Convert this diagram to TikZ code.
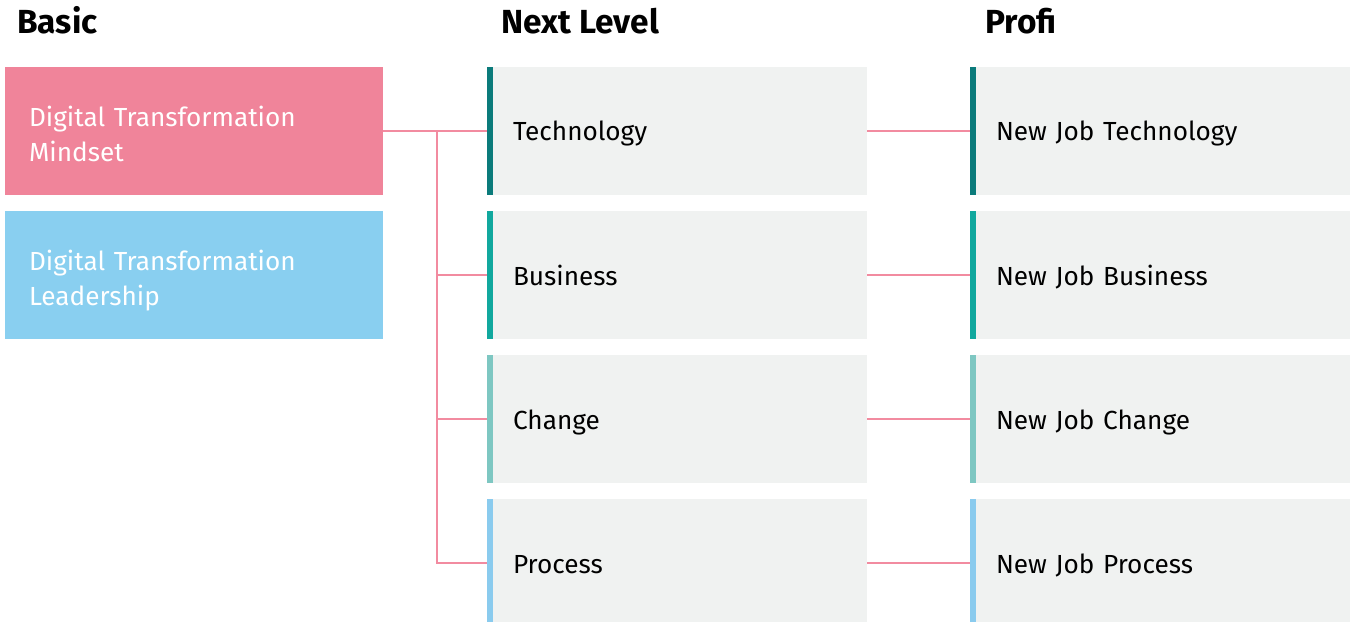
\documentclass[tikz,border=0pt]{standalone}
\usepackage{fontspec}
\setmainfont{Fira Sans}
\usepackage{xcolor}
\usetikzlibrary{positioning}
\definecolor{mypink}{HTML}{F0849A}
\definecolor{myblue}{HTML}{89CFF0}
\definecolor{mygray}{HTML}{F0F2F1}
\definecolor{linkpink}{HTML}{F28BA0}
\definecolor{barone}{HTML}{0B7B7B}
\definecolor{bartwo}{HTML}{11A89E}
\definecolor{barthree}{HTML}{7EC7C2}
\definecolor{barfour}{HTML}{8ACBEE}
\tikzset{
  title/.style={anchor=base west,inner sep=0pt,font=\bfseries\fontsize{19}{22}\selectfont},
  basicbox/.style={minimum width=7.56cm,minimum height=2.56cm,text width=6.6cm,inner xsep=0.48cm,
    text depth=0.6cm,align=left,text=white,font=\fontsize{14.9}{19.9}\selectfont},
  levelbox/.style={fill=mygray,minimum width=7.6cm,minimum height=2.56cm,text width=6.56cm,inner xsep=0.52cm,
    text height=0.6cm,text depth=0.2cm,align=left,font=\fontsize{14.9}{19.9}\selectfont,
    path picture={\fill[#1] (path picture bounding box.south west) rectangle ([xshift=0.12cm]path picture bounding box.north west);}},
  link/.style={draw=linkpink,line width=1.1pt}
}
\begin{document}
\begin{tikzpicture}[x=0.02cm,y=-0.02cm]
        \useasboundingbox (0,0) rectangle (1350,622);
        % Titles
        \node[title] (tbasic) at (17,33) {Basic};
        \node[title] (tnext) at (501,33) {Next Level};
        \node[title] (tprofi) at (985,33) {Profi};
        % Basic
        \draw (194,131) node[basicbox,fill=mypink] (mind) {Digital Transformation\\Mindset};
        \draw (194,275) node[basicbox,fill=myblue] (lead) {Digital Transformation\\Leadership};
        % Next Level
        \draw (677,131) node[levelbox=barone] (tech) {Technology};
        \draw (677,275) node[levelbox=bartwo] (bus) {Business};
        \draw (677,419) node[levelbox=barthree] (chg) {Change};
        \draw (677,563) node[levelbox=barfour] (proc) {Process};
        % Profi
        \draw (1160,131) node[levelbox=barone,minimum width=7.56cm] (jtech) {New Job Technology};
        \draw (1160,275) node[levelbox=bartwo,minimum width=7.56cm] (jbus) {New Job Business};
        \draw (1160,419) node[levelbox=barthree,minimum width=7.56cm] (jchg) {New Job Change};
        \draw (1160,563) node[levelbox=barfour,minimum width=7.56cm] (jproc) {New Job Process};
        % edges
        \coordinate (fork) at (437,131);
        \draw[link] (mind.east) -- (tech.west);
        \draw[link] (fork) |- (bus.west);
        \draw[link] (fork) |- (chg.west);
        \draw[link] (fork) |- (proc.west);
        \draw[link] (tech.east) -- (jtech.west);
        \draw[link] (bus.east) -- (jbus.west);
        \draw[link] (chg.east) -- (jchg.west);
        \draw[link] (proc.east) -- (jproc.west);
\end{tikzpicture}
\end{document}
